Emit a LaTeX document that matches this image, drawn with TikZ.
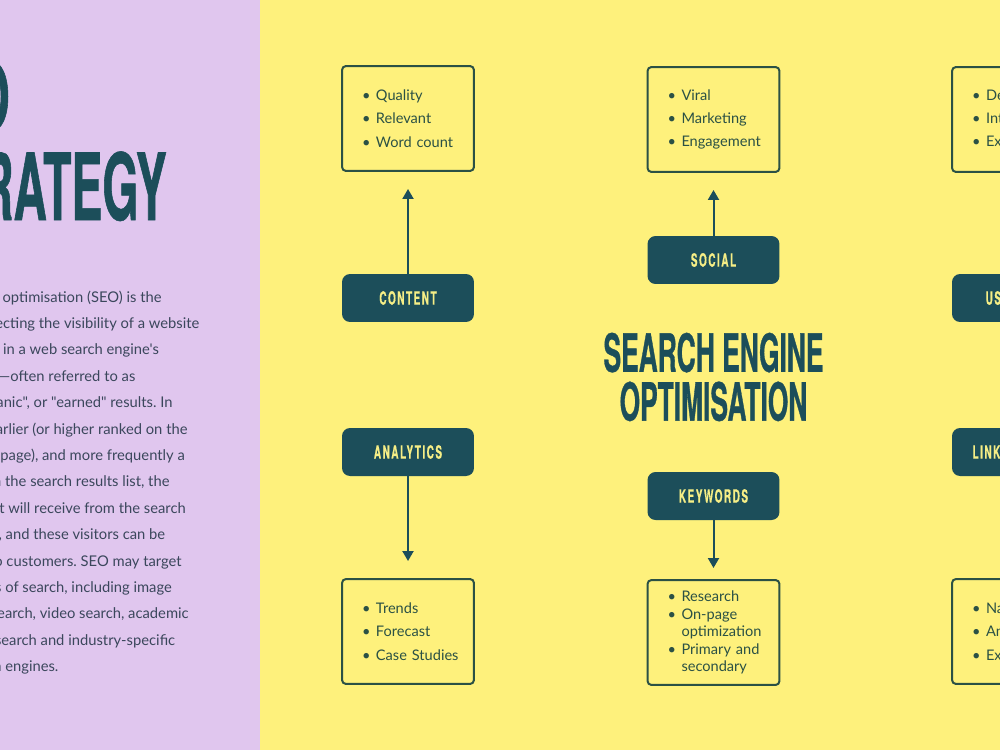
\documentclass[tikz,border=0pt]{standalone}
\usepackage{fontspec}
\setmainfont{Lato}[Ligatures=TeXOff]
\newfontfamily\headfont[FakeStretch=0.5,FakeBold=0.6]{TeX Gyre Heros}
\newfontfamily\labelfont[FakeStretch=0.55,LetterSpace=8,FakeBold=0.4]{TeX Gyre Heros}
\usetikzlibrary{arrows.meta}
\frenchspacing

\definecolor{lilac}{HTML}{E0C6EE}
\definecolor{lemon}{HTML}{FEF17C}
\definecolor{seoteal}{HTML}{1C4E5A}
\definecolor{boxgreen}{HTML}{2B5145}
\definecolor{bodygrey}{HTML}{3B475C}
\definecolor{tagtext}{HTML}{F6EE86}

\newcommand{\itm}[1]{\hspace*{0.28cm}\makebox[0.28cm][l]{\textbullet}#1}
\newcommand{\itmcont}[1]{\hspace*{0.56cm}#1}

\begin{document}
\begin{tikzpicture}[x=0.02cm, y=-0.02cm,
  listbox/.style = {draw=boxgreen, line width=0.04cm, rounded corners=0.08cm, minimum width=2.64cm, minimum height=2.1cm, text width=2.4cm, align=left, text=boxgreen, inner sep=0pt, font=\fontsize{8.3pt}{13.3pt}\selectfont},
  tag/.style = {fill=seoteal, rounded corners=0.16cm, minimum width=2.64cm, minimum height=0.96cm, inner sep=0pt, text=tagtext, font=\labelfont\bfseries\fontsize{10.4pt}{12pt}\selectfont},
  link/.style = {draw=seoteal, line width=0.04cm, -{Triangle[width=0.22cm,length=0.2cm]}, shorten >=0.34cm},
  bodyline/.style = {anchor=base west, inner sep=0pt, text=bodygrey, font=\fontsize{8.4pt}{10pt}\selectfont}]

    \useasboundingbox (0,0) rectangle (1000,750);
    \clip (0,0) rectangle (1000,750);

    % 1. Tlo: panel lewy i prawy
    \fill[lilac] (0,0) rectangle (260,750);
    \fill[lemon] (260,0) rectangle (1000,750);

    % 2. Lewy panel: tytul i opis
    \node[anchor=base east, inner sep=0pt, text=seoteal, font=\headfont\bfseries\fontsize{52.7pt}{60pt}\selectfont] (seo) at (10,130) {SEO};
    \node[anchor=base east, inner sep=0pt, text=seoteal, font=\headfont\bfseries\fontsize{52.7pt}{60pt}\selectfont] (strategy) at (167,220) {STRATEGY};

    \foreach \txt [count=\i from 0] in {
        {Search engine optimisation (SEO) is the},
        {process of affecting the visibility of a website},
        {or a web page in a web search engine's},
        {unpaid results—often referred to as},
        {"natural", "organic", or "earned" results. In},
        {general, the earlier (or higher ranked on the},
        {search results page), and more frequently a},
        {site appears in the search results list, the},
        {more visitors it will receive from the search},
        {engine's users, and these visitors can be},
        {converted into customers. SEO may target},
        {different kinds of search, including image},
        {search, local search, video search, academic},
        {search, news search and industry-specific},
        {vertical search engines.}}
        \node[bodyline] (line\i) at (-92, 302+26.4*\i) {\txt};

    % 3. Tytul centralny
    \node[align=center, inner sep=0pt, text=seoteal, font=\headfont\bfseries\fontsize{30pt}{27.8pt}\selectfont] (seotitle) at (713.5,377) {SEARCH ENGINE\\OPTIMISATION};

    % 4. Etykiety kategorii
    \node[tag] (contenttag) at (408,298) {CONTENT};
    \node[tag] (analyticstag) at (408,452) {ANALYTICS};
    \node[tag] (socialtag) at (713.5,260) {SOCIAL};
    \node[tag] (keywordstag) at (713.5,496) {KEYWORDS};
    \node[tag] (usabilitytag) at (1018,298) {USABILITY};
    \node[tag] (linkstag) at (1018,452) {LINK BUILDING};

    % 5. Listy punktow
    \node[listbox] (contentlist) at (408,118.5) {\itm{Quality}\\\itm{Relevant}\\\itm{Word count}};
    \node[listbox] (analyticslist) at (408,631.5) {\itm{Trends}\\\itm{Forecast}\\\itm{Case Studies}};
    \node[listbox] (sociallist) at (713.5,119.5) {\itm{Viral}\\\itm{Marketing}\\\itm{Engagement}};
    \node[listbox, font=\fontsize{8.3pt}{9.9pt}\selectfont] (keywordslist) at (713.5,632.5) {\itm{Research}\\\itm{On-page}\\\itmcont{optimization}\\\itm{Primary and}\\\itmcont{secondary}};
    \node[listbox] (usabilitylist) at (1018,119.5) {\itm{Design}\\\itm{Interface}\\\itm{Experience}};
    \node[listbox] (linkslist) at (1018,631.5) {\itm{Natural}\\\itm{Anchor text}\\\itm{Exact match}};

    % 6. Strzalki od etykiet do list
    \draw[link] (contenttag) -- (contentlist);
    \draw[link] (analyticstag) -- (analyticslist);
    \draw[link] (socialtag) -- (sociallist);
    \draw[link, shorten >=0.22cm] (keywordstag) -- (keywordslist);
\end{tikzpicture}
\end{document}
